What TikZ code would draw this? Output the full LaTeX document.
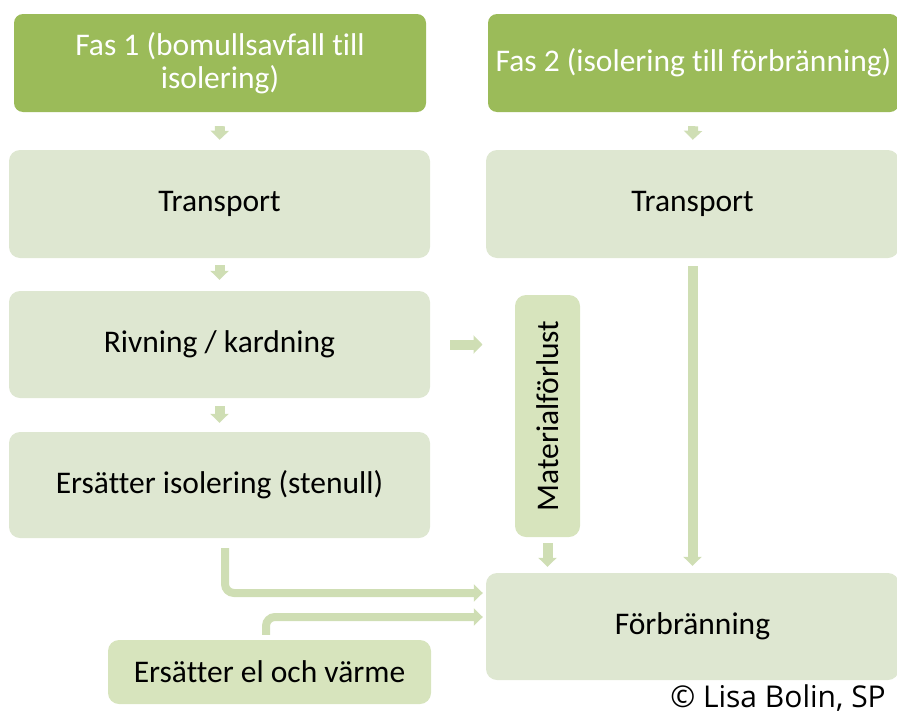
\documentclass[tikz,border=0pt]{standalone}
\usepackage{fontspec}
\setmainfont{Carlito}[Ligatures=NoCommon]
\newfontfamily\creditfont{Open Sans}
\usetikzlibrary{arrows.meta}
\definecolor{phase}{HTML}{9BBB59}
\definecolor{stage}{HTML}{DEE7D1}
\definecolor{side}{HTML}{D7E4BD}
\definecolor{flow}{HTML}{CFDEB4}
\begin{document}
\begin{tikzpicture}[x=1pt,y=-1pt,
  phasebox/.style={fill=phase,rounded corners=9pt,text=white,align=center,
    font=\fontsize{31.5}{33}\selectfont,inner sep=0pt},
  stagebox/.style={fill=stage,rounded corners=11pt,text=black,align=center,
    font=\fontsize{31.5}{36}\selectfont,inner sep=0pt},
  sidebox/.style={fill=side,rounded corners=11pt,text=black,align=center,
    font=\fontsize{31.5}{36}\selectfont,inner sep=0pt},
  flowarrow/.style={draw=flow,line width=10pt,-{Triangle[length=9pt,width=18pt]}},
  bigflow/.style={draw=flow,line width=8pt,rounded corners=9pt,
    -{Triangle[length=9pt,width=17pt]}}]
\useasboundingbox (0,0) rectangle (897,715);
\clip (0,0) rectangle (897,715);

% phase headers
\node[phasebox,minimum width=412,minimum height=98] (fas1) at (220,63)
  {Fas 1 (bomullsavfall till\\isolering)};
\node[phasebox,minimum width=411,minimum height=98] (fas2) at (693.5,63)
  {Fas 2 (isolering till förbränning)};

% phase 1 column
\node[stagebox,minimum width=421,minimum height=108] (tr1) at (219.5,204) {Transport};
\node[stagebox,minimum width=421,minimum height=107] (riv) at (219.5,344.5) {Rivning / kardning};
\node[stagebox,minimum width=421,minimum height=106] (ers) at (219.5,485) {Ersätter isolering (stenull)};

% phase 2 column
\node[stagebox,minimum width=413,minimum height=108] (tr2) at (692.5,204) {Transport};
\node[stagebox,minimum width=413,minimum height=107] (forb) at (692.5,626.5) {Förbränning};

% side boxes
\node[sidebox,rotate=90,minimum width=242,minimum height=65] (mat) at (547.5,416) {Materialförlust};
\node[sidebox,minimum width=323,minimum height=64] (elv) at (269.5,672) {Ersätter el och värme};

% small flow arrows
\draw[flowarrow,shorten <=14pt,shorten >=10pt] (fas1.south) -- (tr1.north);
\draw[flowarrow,shorten <=7pt,shorten >=11pt] (tr1.south) -- (riv.north);
\draw[flowarrow,shorten <=8pt,shorten >=9pt] (riv.south) -- (ers.north);
\draw[flowarrow,shorten <=14pt,shorten >=10pt] (fas2.south) -- (tr2.north);
\draw[flowarrow,shorten <=20pt,shorten >=65pt] (riv.east) -- (riv.east -| mat.center);
\draw[flowarrow,shorten <=127pt,shorten >=6pt] (mat.center) -- (mat.center |- forb.north);

% long arrow down to incineration
\draw[flowarrow,shorten <=8pt,shorten >=7pt] (tr2.south) -- (forb.north);

% elbow arrows into incineration
\coordinate (out1) at ([xshift=5.5pt,yshift=-10pt]ers.south);
\coordinate (out2) at ([xshift=-3.5pt,yshift=5pt]elv.north);
\coordinate (in1) at ([yshift=33.5pt]forb.west);
\coordinate (in2) at ([yshift=9.5pt]forb.west);
\draw[bigflow,shorten >=3pt] (out1) |- (in1);
\draw[bigflow,shorten >=3pt] (out2) |- (in2);

% credit line
\node[anchor=east,font=\creditfont\fontsize{30}{34}\selectfont,inner sep=0pt] (credit) at (886,698)
  {© Lisa Bolin, SP};
\end{tikzpicture}
\end{document}
